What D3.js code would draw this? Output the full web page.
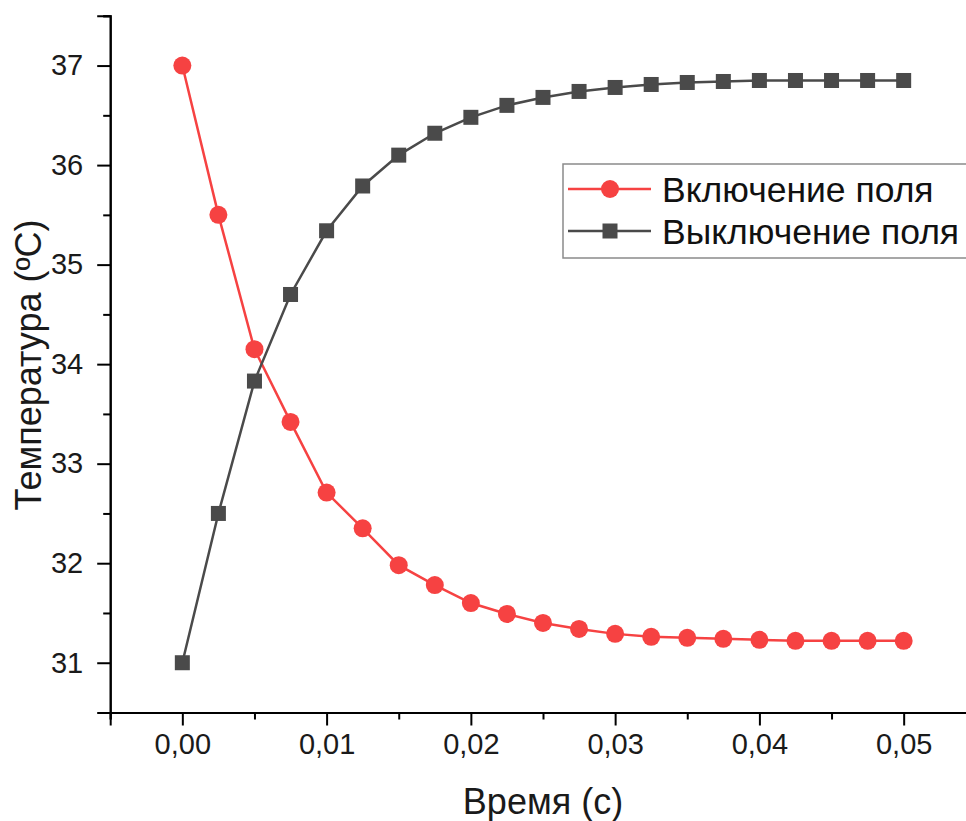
<!DOCTYPE html>
<html>
<head>
<meta charset="utf-8">
<script src="https://cdn.jsdelivr.net/npm/d3@7"></script>
<style>
  body { margin: 0; background: #fff; }
  svg { display: block; font-family: "Liberation Sans", Arial, sans-serif; }
</style>
</head>
<body>
<div id="chart"></div>
<script>
// data
const times = [0, 0.0025, 0.005, 0.0075, 0.01, 0.0125, 0.015, 0.0175, 0.02, 0.0225,
  0.025, 0.0275, 0.03, 0.0325, 0.035, 0.0375, 0.04, 0.0425, 0.045, 0.0475, 0.05];
const fieldOn = [37.0, 35.50, 34.15, 33.42, 32.71, 32.35, 31.98, 31.78, 31.60, 31.49,
  31.40, 31.34, 31.29, 31.26, 31.25, 31.24, 31.23, 31.22, 31.22, 31.22, 31.22];
const fieldOff = [31.0, 32.50, 33.83, 34.70, 35.34, 35.79, 36.10, 36.32, 36.48, 36.60,
  36.68, 36.74, 36.78, 36.81, 36.83, 36.84, 36.85, 36.85, 36.85, 36.85, 36.85];
const seriesNames = ["Включение поля", "Выключение поля"];
const xTicks = [0, 0.01, 0.02, 0.03, 0.04, 0.05];
const xMinor = [-0.005, 0.005, 0.015, 0.025, 0.035, 0.045, 0.055];
const yTicks = [31, 32, 33, 34, 35, 36, 37];
const yMinor = [30.5, 31.5, 32.5, 33.5, 34.5, 35.5, 36.5, 37.5];

const width = 966;
const height = 821;

const svg = d3.select('#chart')
    .append('svg')
    .attr('width', width)
    .attr('height', height);

const x = d3.scaleLinear().domain([-0.005, 0.055]).range([110.2, 975.8]);
const y = d3.scaleLinear().domain([30.5, 37.5]).range([712.5, 15.8]);

const red = "#f64242";
const grey = "#4a4a4a";

// axes
const xAxis = d3.axisBottom(x)
    .tickValues(xTicks)
    .tickSize(13)
    .tickPadding(8)
    .tickFormat(d => d3.format(".2f")(d).replace(".", ","));
const xAxisMinor = d3.axisBottom(x).tickValues(xMinor).tickSize(7).tickFormat("");

const yAxis = d3.axisLeft(y)
    .tickValues(yTicks)
    .tickSize(13)
    .tickPadding(14)
    .tickFormat(d3.format("d"));
const yAxisMinor = d3.axisLeft(y).tickValues(yMinor).tickSize(7).tickFormat("");

const gx = svg.append('g').attr('transform', `translate(0,${y(30.5)})`);
gx.append('g').call(xAxisMinor);
gx.append('g').call(xAxis);

const gy = svg.append('g').attr('transform', `translate(${x(-0.005)},0)`);
gy.append('g').call(yAxisMinor);
gy.append('g').call(yAxis);

svg.selectAll('.domain').attr('stroke', '#000').attr('stroke-width', 2);
svg.selectAll('.tick line').attr('stroke', '#000').attr('stroke-width', 2);
svg.selectAll('.tick text').attr('fill', '#1a1a1a').attr('font-size', 29)
    .attr('font-family', '"Liberation Sans", Arial, sans-serif');

// axis titles
svg.append('text')
    .attr('x', 543)
    .attr('y', 814)
    .attr('text-anchor', 'middle')
    .attr('font-size', 36)
    .attr('fill', '#1a1a1a')
    .text('Время (с)');

svg.append('text')
    .attr('transform', `translate(41,365) rotate(-90)`)
    .attr('text-anchor', 'middle')
    .attr('font-size', 36)
    .attr('fill', '#1a1a1a')
    .text('Температура (ºC)');

// series
const line = d3.line()
    .x(d => x(d[0]))
    .y(d => y(d[1]));

const onData = times.map((t, i) => [t, fieldOn[i]]);
const offData = times.map((t, i) => [t, fieldOff[i]]);

const gOn = svg.append('g');
gOn.append('path')
    .datum(onData)
    .attr('fill', 'none')
    .attr('stroke', red)
    .attr('stroke-width', 2.5)
    .attr('d', line);
gOn.selectAll('circle')
    .data(onData)
    .enter()
    .append('circle')
    .attr('cx', d => x(d[0]))
    .attr('cy', d => y(d[1]))
    .attr('r', 9)
    .attr('fill', red);

const gOff = svg.append('g');
gOff.append('path')
    .datum(offData)
    .attr('fill', 'none')
    .attr('stroke', grey)
    .attr('stroke-width', 2.5)
    .attr('d', line);
gOff.selectAll('rect')
    .data(offData)
    .enter()
    .append('rect')
    .attr('x', d => x(d[0]) - 7.5)
    .attr('y', d => y(d[1]) - 7.5)
    .attr('width', 15)
    .attr('height', 15)
    .attr('fill', grey);

// legend
const legend = svg.append('g').attr('transform', 'translate(563,164)');
legend.append('rect')
    .attr('x', 0)
    .attr('y', 0)
    .attr('width', 420)
    .attr('height', 94)
    .attr('fill', '#fff')
    .attr('stroke', '#8a8a8a')
    .attr('stroke-width', 1.5);

const rows = legend.selectAll('g.row')
    .data(seriesNames)
    .enter()
    .append('g')
    .attr('class', 'row')
    .attr('transform', (d, i) => `translate(0,${25 + i * 42})`);

rows.append('line')
    .attr('x1', 5)
    .attr('x2', 88)
    .attr('stroke', (d, i) => i === 0 ? red : grey)
    .attr('stroke-width', 2.5);

rows.filter((d, i) => i === 0).append('circle')
    .attr('cx', 47)
    .attr('r', 9)
    .attr('fill', red);
rows.filter((d, i) => i === 1).append('rect')
    .attr('x', 47 - 7.5)
    .attr('y', -7.5)
    .attr('width', 15)
    .attr('height', 15)
    .attr('fill', grey);

rows.append('text')
    .attr('x', 99)
    .attr('dy', '0.36em')
    .attr('font-size', 35.5)
    .attr('fill', '#111')
    .text(d => d);
</script>
</body>
</html>
